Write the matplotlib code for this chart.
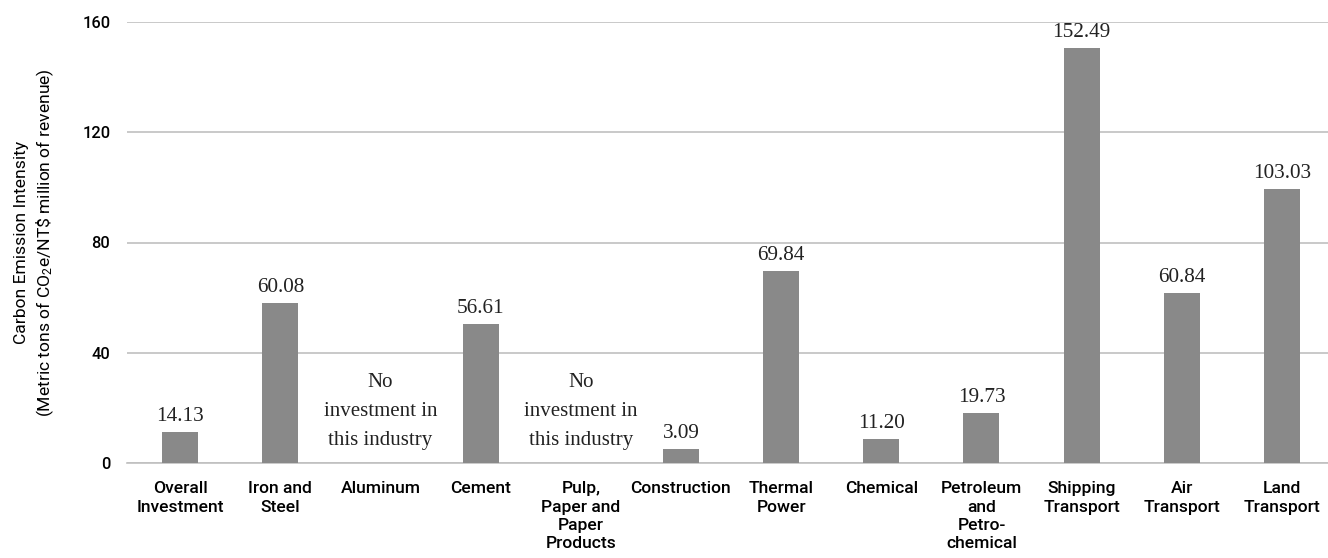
import matplotlib.pyplot as plt
import numpy as np

plt.rcParams['font.family'] = 'Roboto'
plt.rcParams['mathtext.fontset'] = 'custom'
plt.rcParams['mathtext.rm'] = 'Roboto'
plt.rcParams['mathtext.it'] = 'Roboto'

# categories (x tick labels):
categories = ['Overall\nInvestment', 'Iron and\nSteel', 'Aluminum', 'Cement',
              'Pulp,\nPaper and\nPaper\nProducts', 'Construction', 'Thermal\nPower',
              'Chemical', 'Petroleum\nand\nPetro-\nchemical', 'Shipping\nTransport',
              'Air\nTransport', 'Land\nTransport']

# bar heights as drawn in the picture (nan = no investment):
heights = [11.3, 58.2, np.nan, 50.5, np.nan, 5.1, 69.5, 8.8, 18.3, 150.4, 61.8, 99.3]

# value labels printed above the bars:
labels = ['14.13', '60.08', '', '56.61', '', '3.09', '69.84', '11.20', '19.73',
          '152.49', '60.84', '103.03']

# text shown instead of a bar:
no_inv = 'No\ninvestment in\nthis industry'

yticks = [0, 40, 80, 120, 160]

fig = plt.figure(figsize=(13.28, 5.58), dpi=100)
ax = fig.add_axes([127/1328, 95/558, 1 - 127/1328, 441/558])

x = np.arange(len(categories))
ax.bar(x, np.nan_to_num(heights), width=0.36, color='#898989', zorder=3)

for i in range(len(categories)):
    if np.isnan(heights[i]):
        ax.text(x[i], 18.8, no_inv, ha='center', va='center', fontsize=15,
                family='Liberation Serif', color='#222222', linespacing=1.72)
    else:
        ax.annotate(labels[i], (x[i], heights[i]), xytext=(0, 6),
                    textcoords='offset pixels', ha='center', va='bottom',
                    fontsize=15.3, family='Liberation Serif', color='#222222')

ax.set_xlim(-0.53, 11.46)
ax.set_ylim(0, 160)
ax.set_yticks(yticks)
ax.set_xticks(x)
ax.set_xticklabels(categories, fontsize=12.6, fontweight='medium', linespacing=1.29)
ax.tick_params(axis='y', labelsize=11.8, length=0, pad=12)
ax.tick_params(axis='x', length=0, pad=13)
for lab in ax.get_yticklabels():
    lab.set_fontweight('medium')
ax.grid(axis='y', color='#c0c0c0', linewidth=1.2, zorder=0)
for s in ['top', 'right', 'left']:
    ax.spines[s].set_visible(False)
ax.spines['bottom'].set_color('#c0c0c0')
ax.spines['bottom'].set_linewidth(1.2)

fig.text(35/1328, 0.5653,
         'Carbon Emission Intensity\n(Metric tons of CO$_2$e/NT\\$ million of revenue)',
         rotation=90, ha='center', va='center', fontsize=12.6, linespacing=1.35)

fig.savefig('out.png', dpi=100)
